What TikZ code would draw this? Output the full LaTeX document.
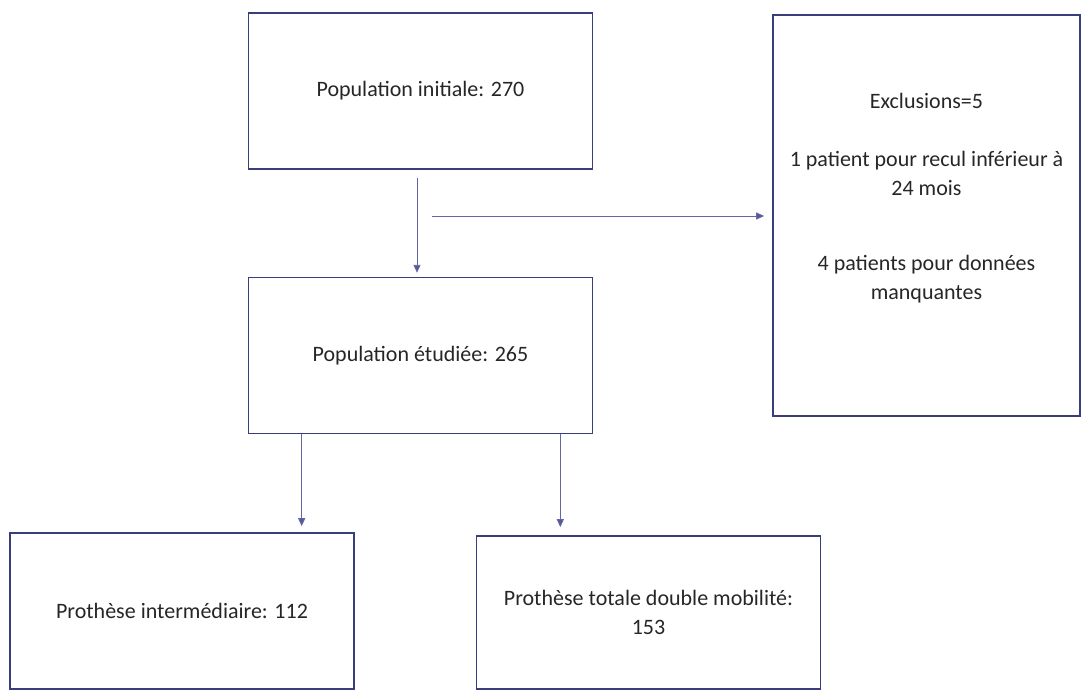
\documentclass[tikz,border=0pt]{standalone}
\usepackage{fontspec}
\setmainfont{Carlito}
\usepackage{xcolor}
\usetikzlibrary{arrows.meta,positioning}
\definecolor{flowframe}{HTML}{3A3D7C}
\definecolor{flowline}{HTML}{6466A8}
\definecolor{flowtip}{HTML}{56598F}

\begin{document}
\begin{tikzpicture}[
        x=1pt, y=-1pt,
        box/.style={
          draw=flowframe,
          line width=1.6pt,
          minimum width=344pt,
          minimum height=156pt,
          align=center,
          font=\fontsize{22}{29}\selectfont,
          text=black!85
        },
        arrow/.style={
          -{Triangle[length=8pt,width=7pt,fill=flowtip]},
          line width=0.9pt,
          flowline
        }
      ]
      \useasboundingbox (0,0) rectangle (1081,690);

      \node[box] (init) at (420.5,91) {Population initiale: 270};
      \node[box, below=107pt of init] (etud) {Population étudiée: 265};
      \node[box, minimum width=307pt, minimum height=401pt] (excl) at (926.5,215.5)
        {Exclusions=5\\[29pt]1 patient pour recul inférieur à\\24 mois\\[46pt]4 patients pour données\\manquantes\\[10pt]\mbox{}};
      \node[box] (interm) at (182,611) {Prothèse intermédiaire: 112};
      \node[box, minimum height=153pt] (dm) at (648.5,612.5) {Prothèse totale double mobilité:\\153};

      \coordinate (split) at (432,216);

      \draw[arrow, shorten <=8pt, shorten >=4pt] ([xshift=-3.5pt]init.south) -- ([xshift=-3.5pt]etud.north);
      \draw[arrow, shorten >=8pt] (split) -- (split -| excl.west);
      \draw[arrow, shorten >=6pt] ([xshift=54pt]etud.south west) -- ([xshift=54pt]etud.south west |- interm.north);
      \draw[arrow, shorten >=8pt] ([xshift=-33pt]etud.south east) -- ([xshift=-33pt]etud.south east |- dm.north);

      \end{tikzpicture}
\end{document}
